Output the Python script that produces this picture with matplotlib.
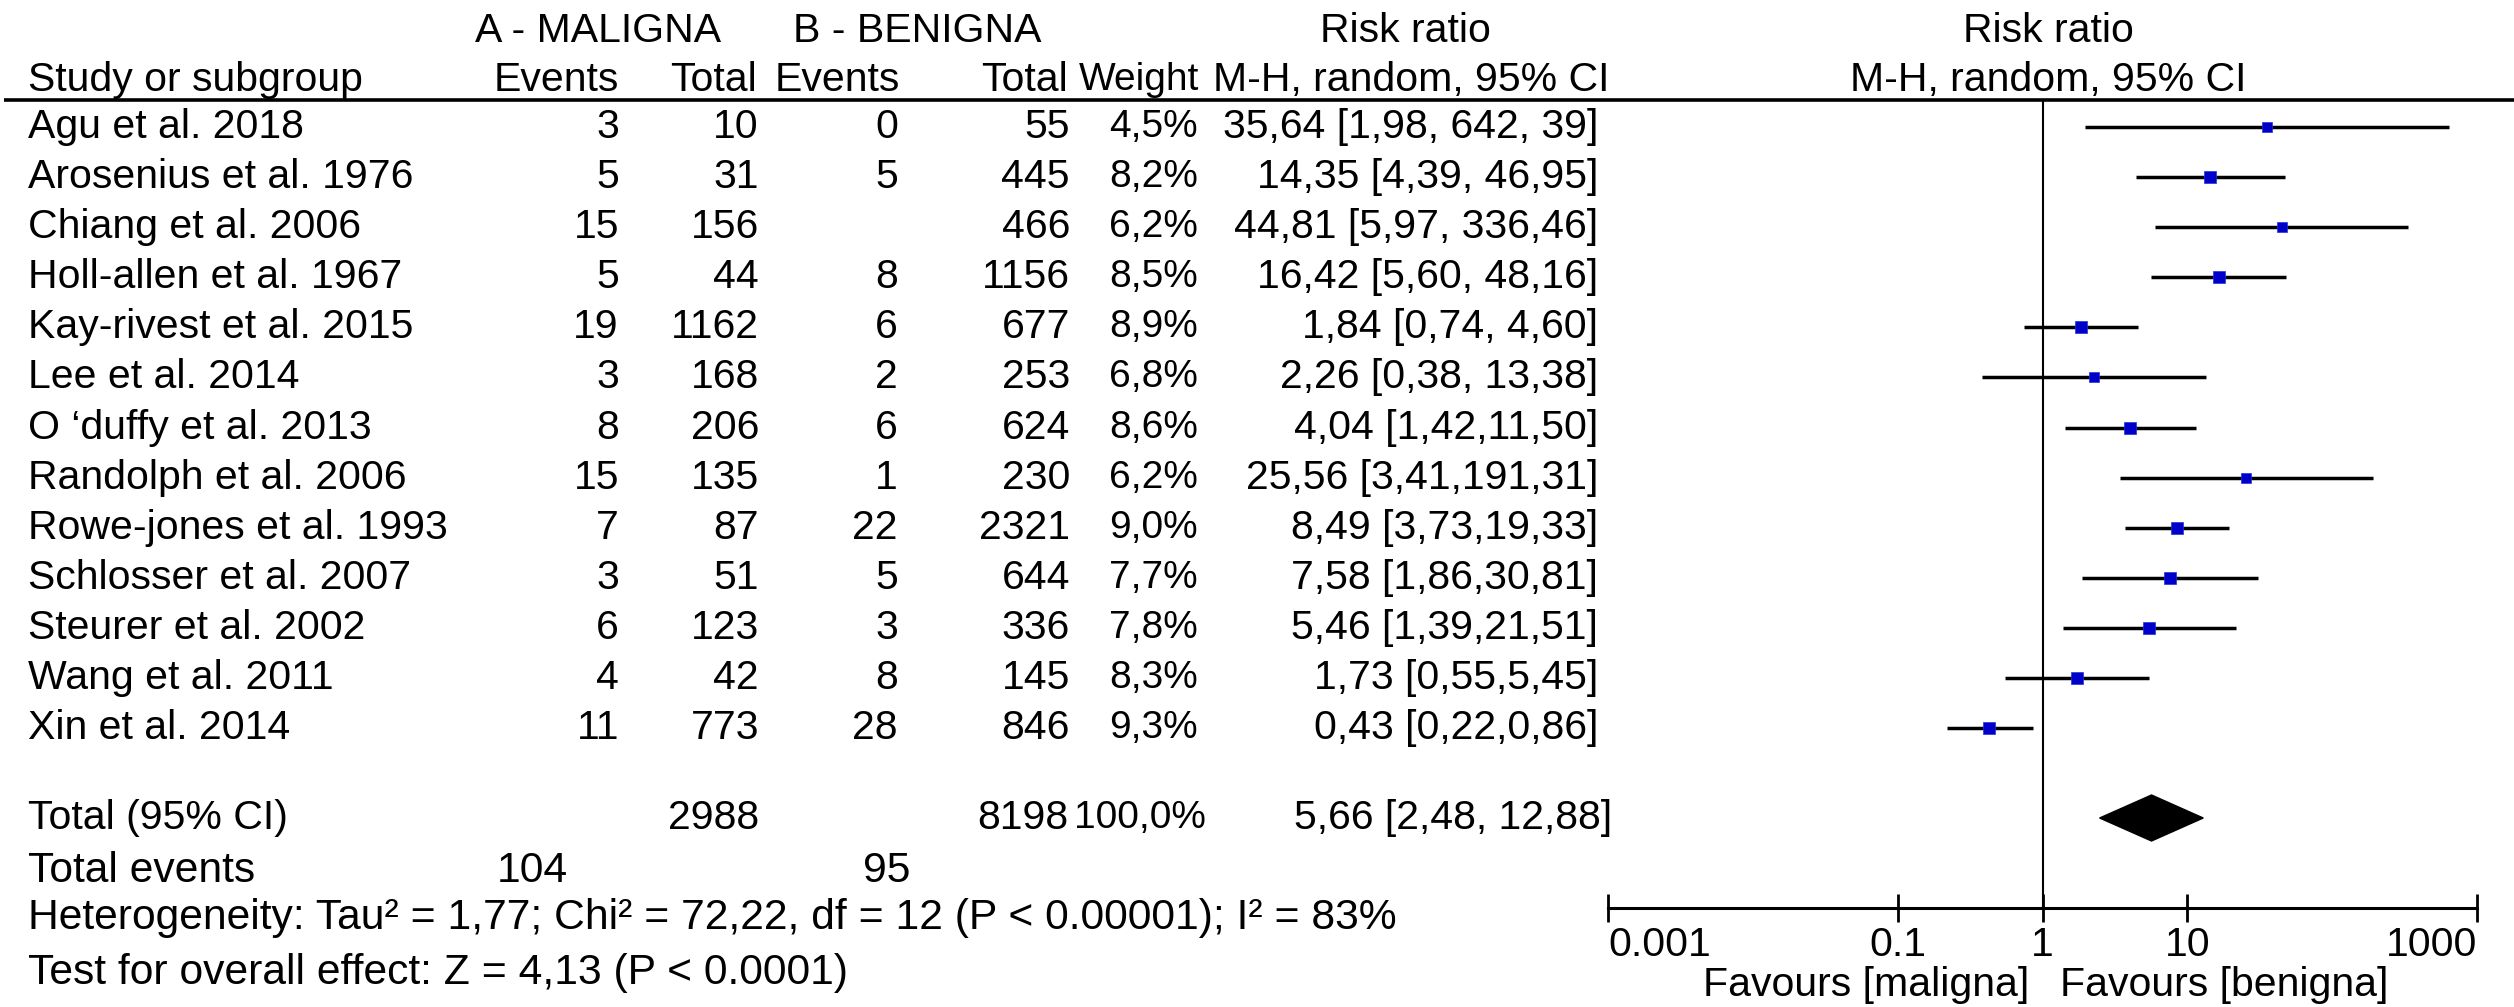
import matplotlib
matplotlib.use("Agg")
import matplotlib.pyplot as plt
from matplotlib.patches import Polygon
import numpy as np

plt.rcParams["font.family"] = ["Liberation Sans", "DejaVu Sans"]

# ---- data ----
studies = ["Agu et al. 2018", "Arosenius et al. 1976", "Chiang et al. 2006",
           "Holl-allen et al. 1967", "Kay-rivest et al. 2015", "Lee et al. 2014",
           "O \u2018duffy et al. 2013", "Randolph et al. 2006", "Rowe-jones et al. 1993",
           "Schlosser et al. 2007", "Steurer et al. 2002", "Wang et al. 2011",
           "Xin et al. 2014"]
events_a = ["3", "5", "15", "5", "19", "3", "8", "15", "7", "3", "6", "4", "11"]
total_a = ["10", "31", "156", "44", "1162", "168", "206", "135", "87", "51", "123", "42", "773"]
events_b = ["0", "5", "", "8", "6", "2", "6", "1", "22", "5", "3", "8", "28"]
total_b = ["55", "445", "466", "1156", "677", "253", "624", "230", "2321", "644", "336", "145", "846"]
weights = [4.5, 8.2, 6.2, 8.5, 8.9, 6.8, 8.6, 6.2, 9.0, 7.7, 7.8, 8.3, 9.3]
weight_labels = ["4,5%", "8,2%", "6,2%", "8,5%", "8,9%", "6,8%", "8,6%", "6,2%",
                 "9,0%", "7,7%", "7,8%", "8,3%", "9,3%"]
rr = [35.64, 14.35, 44.81, 16.42, 1.84, 2.26, 4.04, 25.56, 8.49, 7.58, 5.46, 1.73, 0.43]
ci_lo = [1.98, 4.39, 5.97, 5.60, 0.74, 0.38, 1.42, 3.41, 3.73, 1.86, 1.39, 0.55, 0.22]
ci_hi = [642.39, 46.95, 336.46, 48.16, 4.60, 13.38, 11.50, 191.31, 19.33, 30.81, 21.51, 5.45, 0.86]
ci_labels = ["35,64 [1,98, 642, 39]", "14,35 [4,39, 46,95]", "44,81 [5,97, 336,46]",
             "16,42 [5,60, 48,16]", "1,84 [0,74, 4,60]", "2,26 [0,38, 13,38]",
             "4,04 [1,42,11,50]", "25,56 [3,41,191,31]", "8,49 [3,73,19,33]",
             "7,58 [1,86,30,81]", "5,46 [1,39,21,51]", "1,73 [0,55,5,45]",
             "0,43 [0,22,0,86]"]

total_n_a, total_n_b, total_weight = "2988", "8198", "100,0%"
total_events_a, total_events_b = "104", "95"
pooled_rr, pooled_lo, pooled_hi = 5.66, 2.48, 12.88
pooled_label = "5,66 [2,48, 12,88]"

ticks = [0.001, 0.1, 1, 10, 1000]
tick_labels = ["0.001", "0.1", "1", "10", "1000"]

W, H = 2514, 1007
FS = 29.5
FS_W = 28
row0, row_step = 127, 50.1
total_y = 818

fig = plt.figure(figsize=(W / 100, H / 100), dpi=100)

# table layer in pixel coordinates
tab = fig.add_axes([0, 0, 1, 1])
tab.set_xlim(0, W)
tab.set_ylim(H, 0)
tab.axis("off")


def txt(x, y, s, ha="left", fs=FS):
    tab.text(x, y, s, ha=ha, va="center", fontsize=fs)


# headers
txt(598, 31, "A - MALIGNA", "center")
txt(917, 31, "B - BENIGNA", "center")
txt(1405, 31, "Risk ratio", "center")
txt(2048, 31, "Risk ratio", "center")
txt(28, 80, "Study or subgroup")
txt(619, 80, "Events", "right")
txt(757, 80, "Total", "right")
txt(900, 80, "Events", "right")
txt(1068, 80, "Total", "right")
txt(1199, 80, "Weight", "right", fs=FS_W)
txt(1411, 80, "M-H, random, 95% CI", "center")
txt(2048, 80, "M-H, random, 95% CI", "center")
tab.plot([4, W], [100, 100], color="black", lw=2.6, solid_capstyle="butt")

ys = row0 + row_step * np.arange(len(studies))
for i, y in enumerate(ys):
    txt(28, y, studies[i])
    txt(619, y, events_a[i], "right")
    txt(759, y, total_a[i], "right")
    txt(898, y, events_b[i], "right")
    txt(1070, y, total_b[i], "right")
    txt(1198, y, weight_labels[i], "right", fs=FS_W)
    txt(1598, y, ci_labels[i], "right")

txt(28, total_y, "Total (95% CI)")
txt(759, total_y, total_n_a, "right")
txt(1068, total_y, total_n_b, "right")
txt(1206, total_y, total_weight, "right", fs=FS_W)
txt(1612, total_y, pooled_label, "right")

FS_B = FS * 1.04
txt(28, 871, "Total events", fs=FS_B)
txt(568, 871, total_events_a, "right", fs=FS_B)
txt(910, 871, total_events_b, "right", fs=FS_B)
txt(28, 918, "Heterogeneity: Tau\u00b2 = 1,77; Chi\u00b2 = 72,22, df = 12 (P < 0.00001); I\u00b2 = 83%",
    fs=FS_B)
txt(28, 973, "Test for overall effect: Z = 4,13 (P < 0.0001)", fs=FS_B)

# forest panel
x0, x1 = 1608, 2477
top, bot = 100, 908
ax = fig.add_axes([x0 / W, 1 - bot / H, (x1 - x0) / W, (bot - top) / H])
ax.patch.set_alpha(0)
ax.set_xscale("log")
ax.set_xlim(1e-3, 1e3)
ax.set_ylim(bot, top)
for s in ["top", "left", "right"]:
    ax.spines[s].set_visible(False)
ax.spines["bottom"].set_linewidth(2.2)
ax.set_yticks([])
ax.minorticks_off()
ax.set_xticks(ticks)
ax.set_xticklabels(tick_labels, fontsize=FS)
ax.tick_params(axis="x", direction="inout", length=20, width=2.0, pad=3)
labs = ax.get_xticklabels()
labs[0].set_ha("left")
labs[-1].set_ha("right")

ax.axvline(1, color="black", lw=1.5)
ax.hlines(ys, ci_lo, ci_hi, color="black", lw=2.5)
for y, r, w in zip(ys, rr, weights):
    ax.plot(r, y, marker="s", ms=6.5 + 0.2 * w, color="#0000c8",
            markeredgecolor="#2233dd", markeredgewidth=0.5, linestyle="none")

dh = 23
diamond = Polygon([(pooled_lo, total_y), (pooled_rr, total_y - dh),
                   (pooled_hi, total_y), (pooled_rr, total_y + dh)],
                  closed=True, color="black")
ax.add_patch(diamond)

tab.text(2029, 985, "Favours [maligna]", ha="right", va="center", fontsize=FS)
tab.text(2060, 985, "Favours [benigna]", ha="left", va="center", fontsize=FS)

fig.savefig("out.png", dpi=100)
